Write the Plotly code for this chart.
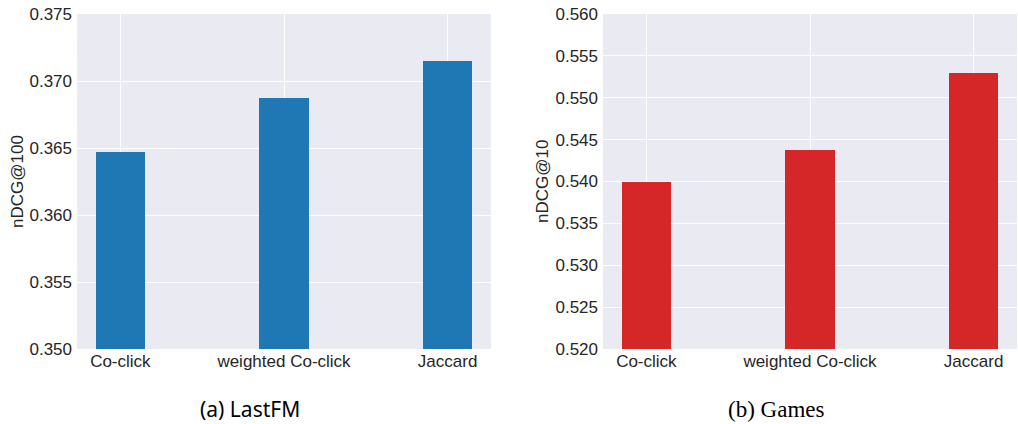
import plotly.graph_objects as go
from plotly.subplots import make_subplots

# Similarity measures compared on each dataset
methods = ["Co-click", "weighted Co-click", "Jaccard"]
lastfm_ndcg100 = [0.3647, 0.3687, 0.3715]
games_ndcg10 = [0.5400, 0.5438, 0.5529]

lastfm_ticks = [0.350, 0.355, 0.360, 0.365, 0.370, 0.375]
games_ticks = [0.520, 0.525, 0.530, 0.535, 0.540, 0.545, 0.550, 0.555, 0.560]

W, H = 1018, 424
BG = "#EAEAF2"
TXT = "#262626"
TICK_FONT = dict(family="Liberation Sans, Arial, sans-serif", size=17, color=TXT)


def px_x(p):
    return p / W


def px_y(p):
    return 1 - p / H


fig = make_subplots(rows=1, cols=2)

fig.add_trace(go.Bar(x=methods, y=lastfm_ndcg100, width=0.3,
                     marker=dict(color="#1f77b4", line=dict(width=0)),
                     showlegend=False), row=1, col=1)
fig.add_trace(go.Bar(x=methods, y=games_ndcg10, width=0.3,
                     marker=dict(color="#d62728", line=dict(width=0)),
                     showlegend=False), row=1, col=2)

ydom = [px_y(349), px_y(14)]
fig.update_layout(
    width=W, height=H,
    margin=dict(l=0, r=0, t=0, b=0),
    paper_bgcolor="white",
    plot_bgcolor=BG,
    font=TICK_FONT,
    bargap=0,
    xaxis=dict(domain=[px_x(77), px_x(491)]),
    xaxis2=dict(domain=[px_x(603), px_x(1017)]),
    yaxis=dict(domain=ydom, range=[0.350, 0.375], tickvals=lastfm_ticks),
    yaxis2=dict(domain=ydom, range=[0.520, 0.560], tickvals=games_ticks),
)

fig.update_xaxes(range=[-0.265, 2.265], showgrid=True, gridcolor="white",
                 gridwidth=1, zeroline=False, showline=False, ticks="",
                 ticklabelstandoff=0, tickfont=TICK_FONT, automargin=False)
fig.update_yaxes(tickformat=".3f", showgrid=True, gridcolor="white",
                 gridwidth=1, zeroline=False, showline=False, ticks="",
                 ticklabelstandoff=4, tickfont=TICK_FONT, automargin=False)

# Axis titles
fig.add_annotation(text="nDCG@100", x=px_x(17.5), y=px_y(181.5),
                   xref="paper", yref="paper", textangle=-90,
                   showarrow=False, font=TICK_FONT,
                   xanchor="center", yanchor="middle")
fig.add_annotation(text="nDCG@10", x=px_x(542.5), y=px_y(181.5),
                   xref="paper", yref="paper", textangle=-90,
                   showarrow=False, font=TICK_FONT,
                   xanchor="center", yanchor="middle")

# Sub-figure captions
fig.add_annotation(text="(a) LastFM", x=px_x(250), y=px_y(409),
                   xref="paper", yref="paper", showarrow=False,
                   font=dict(family="Noto Sans, sans-serif", size=21, color="black"),
                   xanchor="center", yanchor="middle")
fig.add_annotation(text="(b) Games", x=px_x(776), y=px_y(409),
                   xref="paper", yref="paper", showarrow=False,
                   font=dict(family="Liberation Serif, serif", size=23, color="black"),
                   xanchor="center", yanchor="middle")

fig.write_html("out.html")
